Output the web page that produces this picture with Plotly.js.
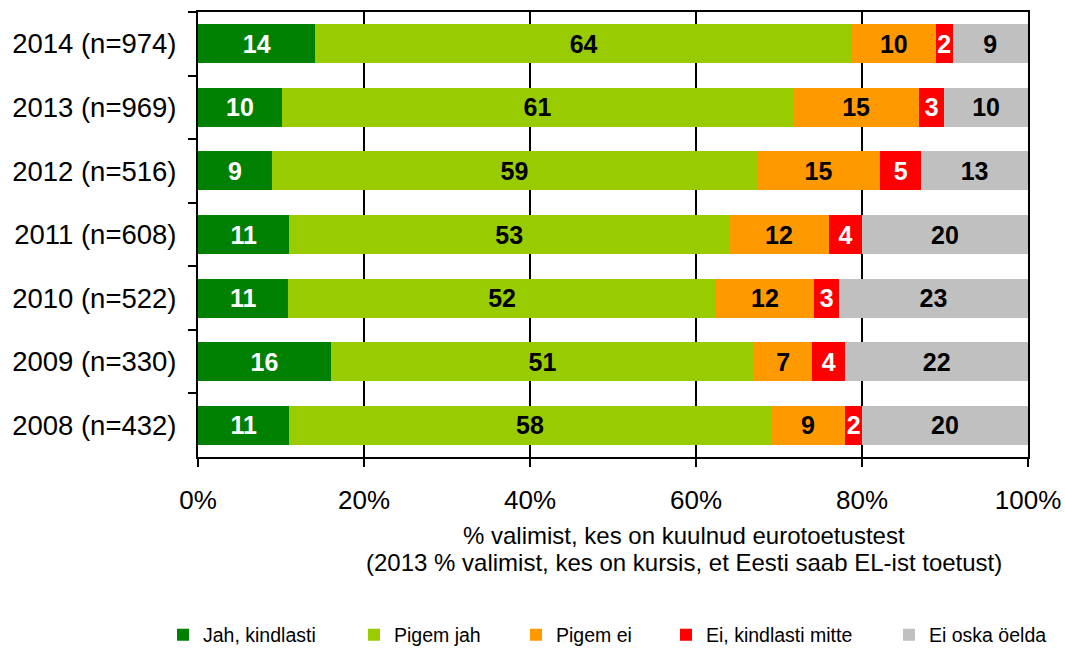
<!DOCTYPE html>
<html>
<head>
<meta charset="utf-8">
<script src="https://cdn.plot.ly/plotly-3.0.1.min.js"></script>
<style>
  html, body { margin: 0; padding: 0; background: #fff; }
  #chart { width: 1065px; height: 648px; }
</style>
</head>
<body>
<div id="chart"></div>
<script>
// Categories (top to bottom)
const categories = ['2014 (n=974)', '2013 (n=969)', '2012 (n=516)', '2011 (n=608)', '2010 (n=522)', '2009 (n=330)', '2008 (n=432)'];

// Series values (%)
const jahKindlasti   = [14, 10, 9, 11, 11, 16, 11];
const pigemJah       = [64, 61, 59, 53, 52, 51, 58];
const pigemEi        = [10, 15, 15, 12, 12, 7, 9];
const eiKindlasti    = [2, 3, 5, 4, 3, 4, 2];
const eiOskaOelda    = [9, 10, 13, 20, 23, 22, 20];

const seriesNames  = ['Jah, kindlasti', 'Pigem jah', 'Pigem ei', 'Ei, kindlasti mitte', 'Ei oska öelda'];
const seriesValues = [jahKindlasti, pigemJah, pigemEi, eiKindlasti, eiOskaOelda];
const seriesColors = ['#008000', '#99CC00', '#FF9900', '#FF0000', '#C0C0C0'];
const labelColors  = ['#FFFFFF', '#000000', '#000000', '#FFFFFF', '#000000'];

const xTickVals = [0, 20, 40, 60, 80, 100];
const xTickText = ['0%', '20%', '40%', '60%', '80%', '100%'];

const FONT = 'Liberation Sans, Arial, sans-serif';
const W = 1065;
// legend marker left positions (px)
const legendX = [177, 368, 530, 680, 903];

const traces = seriesNames.map((name, i) => ({
  type: 'bar',
  orientation: 'h',
  name: name,
  y: categories,
  x: seriesValues[i],
  text: seriesValues[i].map(String),
  texttemplate: '%{text}',
  textposition: 'inside',
  insidetextanchor: 'middle',
  constraintext: 'none',
  textangle: 0,
  insidetextfont: { family: FONT, size: 25, color: labelColors[i], weight: 'bold' },
  marker: { color: seriesColors[i], line: { width: 0 } },
  legend: i === 0 ? 'legend' : 'legend' + (i + 1),
  hoverinfo: 'name+text'
}));

function mkLegend(i) {
  return {
    orientation: 'h',
    xref: 'container', yref: 'container',
    x: (legendX[i] - 14) / W, xanchor: 'left',
    y: 13 / 648, yanchor: 'middle',
    font: { family: FONT, size: 19.5, color: '#000' },
    bgcolor: 'rgba(0,0,0,0)',
    borderwidth: 0,
    itemwidth: 30
  };
}

const layout = {
  width: 1065,
  height: 648,
  paper_bgcolor: '#FFFFFF',
  plot_bgcolor: '#FFFFFF',
  margin: { l: 198, r: 37, t: 12, b: 191, pad: 0 },
  barmode: 'stack',
  barnorm: 'percent',
  bargap: 0.387,
  showlegend: true,
  font: { family: FONT, color: '#000' },
  xaxis: {
    range: [0, 100],
    tickvals: xTickVals,
    ticktext: xTickText,
    tickfont: { family: FONT, size: 26, color: '#000' },
    ticks: 'outside',
    ticklen: 8,
    tickwidth: 2,
    tickcolor: '#000',
    ticklabelstandoff: 11,
    showgrid: true,
    gridcolor: '#000',
    gridwidth: 1.6,
    showline: true,
    linecolor: '#000',
    linewidth: 2,
    mirror: true,
    zeroline: false,
    fixedrange: true
  },
  yaxis: {
    type: 'category',
    categoryorder: 'array',
    categoryarray: categories,
    autorange: 'reversed',
    tickfont: { family: FONT, size: 27.5, color: '#000' },
    ticks: 'outside',
    tickson: 'boundaries',
    ticklen: 8,
    tickwidth: 2,
    tickcolor: '#000',
    ticklabelstandoff: 14,
    showgrid: false,
    showline: true,
    linecolor: '#000',
    linewidth: 2,
    mirror: true,
    zeroline: false,
    fixedrange: true
  },
  annotations: [
    {
      text: '% valimist, kes on kuulnud eurotoetustest',
      xref: 'paper', yref: 'paper',
      x: (684 - 198) / 830, y: (457 - 535) / 445,
      xanchor: 'center', yanchor: 'middle',
      showarrow: false,
      font: { family: FONT, size: 24, color: '#000' }
    },
    {
      text: '(2013 % valimist, kes on kursis, et Eesti saab EL-ist toetust)',
      xref: 'paper', yref: 'paper',
      x: (684 - 198) / 830, y: (457 - 562) / 445,
      xanchor: 'center', yanchor: 'middle',
      showarrow: false,
      font: { family: FONT, size: 24, color: '#000' }
    }
  ],
  legend: mkLegend(0),
  legend2: mkLegend(1),
  legend3: mkLegend(2),
  legend4: mkLegend(3),
  legend5: mkLegend(4)
};

Plotly.newPlot('chart', traces, layout, { displayModeBar: false, staticPlot: false });
</script>
</body>
</html>
